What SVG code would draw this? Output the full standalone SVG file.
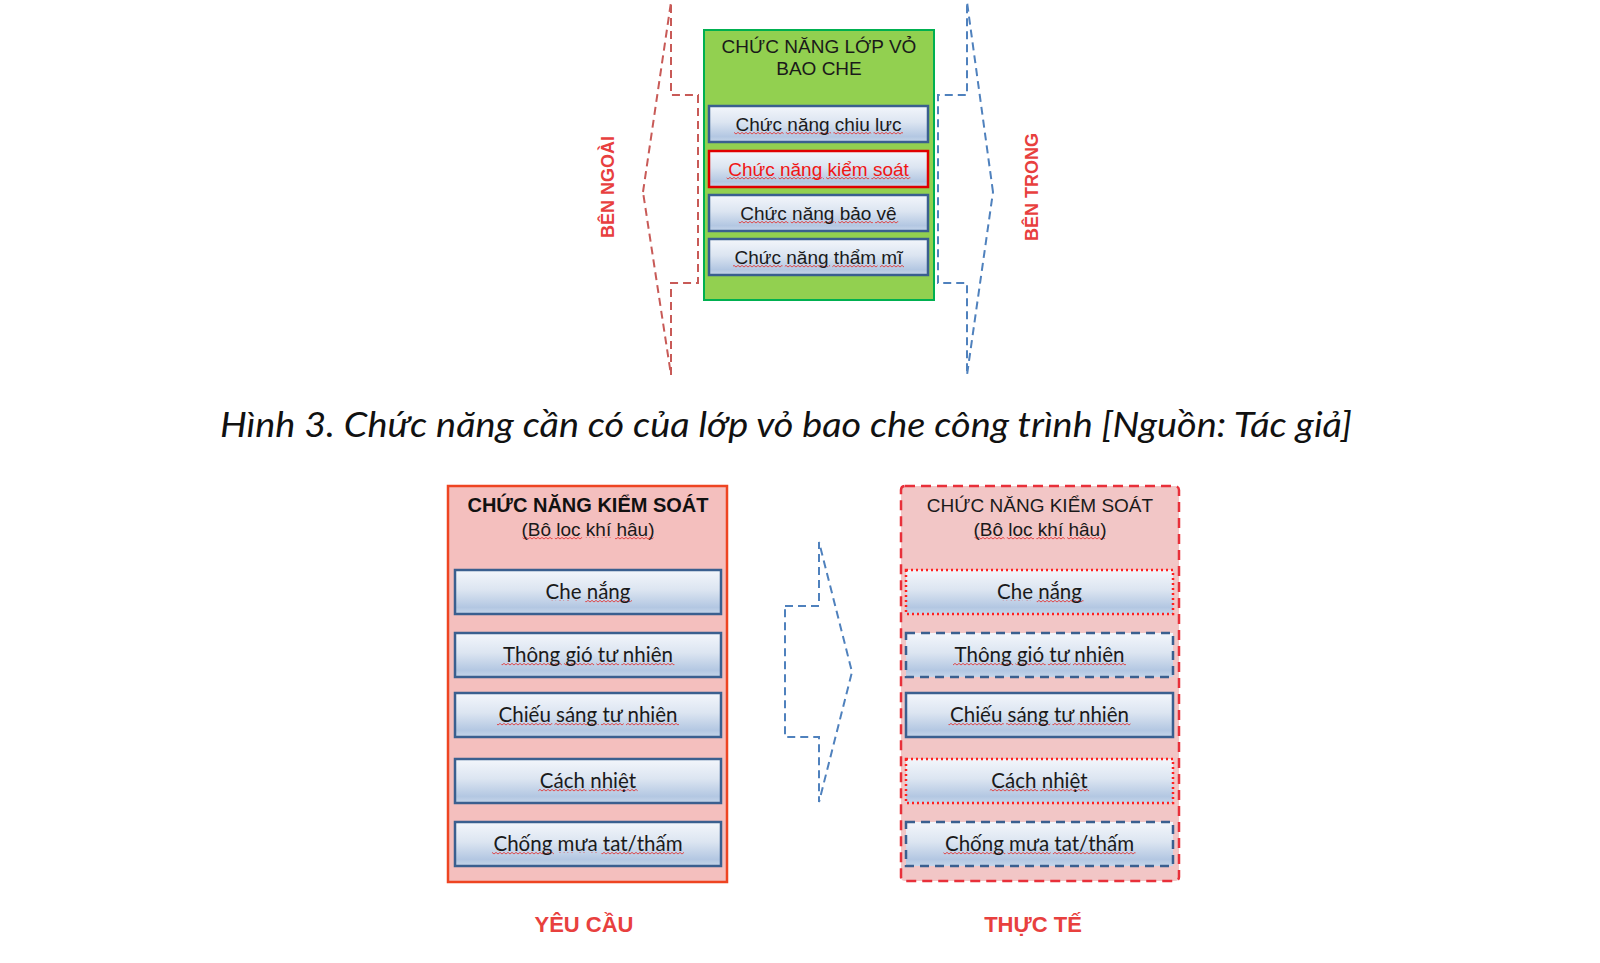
<svg xmlns="http://www.w3.org/2000/svg" width="1600" height="963" viewBox="0 0 1600 963">
<defs>
<linearGradient id="boxg" x1="0" y1="0" x2="0" y2="1">
<stop offset="0" stop-color="#F3F6FB"/>
<stop offset="0.45" stop-color="#DCE5F1"/>
<stop offset="0.85" stop-color="#B3C7E2"/>
<stop offset="1" stop-color="#C6D6EA"/>
</linearGradient>
<path id="zz" fill="none" stroke="#E03A3A" stroke-width="0.9" d="M0,0 l2,-1.6 2,1.6 2,-1.6 2,1.6 2,-1.6 2,1.6 2,-1.6 2,1.6 2,-1.6 2,1.6 2,-1.6 2,1.6 2,-1.6 2,1.6 2,-1.6 2,1.6 2,-1.6 2,1.6 2,-1.6 2,1.6 2,-1.6 2,1.6 2,-1.6 2,1.6 2,-1.6 2,1.6 2,-1.6 2,1.6 2,-1.6 2,1.6 2,-1.6 2,1.6 2,-1.6 2,1.6 2,-1.6 2,1.6 2,-1.6 2,1.6 2,-1.6 2,1.6 2,-1.6 2,1.6 2,-1.6 2,1.6 2,-1.6 2,1.6 2,-1.6 2,1.6 2,-1.6 2,1.6 2,-1.6 2,1.6 2,-1.6 2,1.6 2,-1.6 2,1.6 2,-1.6 2,1.6 2,-1.6 2,1.6 2,-1.6 2,1.6 2,-1.6 2,1.6 2,-1.6 2,1.6 2,-1.6 2,1.6 2,-1.6 2,1.6 2,-1.6 2,1.6 2,-1.6 2,1.6 2,-1.6 2,1.6 2,-1.6 2,1.6 2,-1.6 2,1.6 2,-1.6 2,1.6 2,-1.6 2,1.6 2,-1.6 2,1.6 2,-1.6 2,1.6 2,-1.6 2,1.6 2,-1.6 2,1.6 2,-1.6 2,1.6 2,-1.6 2,1.6 2,-1.6 2,1.6 2,-1.6 2,1.6 2,-1.6 2,1.6 2,-1.6 2,1.6 2,-1.6 2,1.6 2,-1.6 2,1.6 2,-1.6 2,1.6 2,-1.6 2,1.6 2,-1.6 2,1.6 2,-1.6 2,1.6 2,-1.6 2,1.6 2,-1.6 2,1.6 2,-1.6 2,1.6 2,-1.6 2,1.6 2,-1.6 2,1.6 2,-1.6 2,1.6 2,-1.6 2,1.6 2,-1.6 2,1.6 2,-1.6 2,1.6 2,-1.6 2,1.6 2,-1.6 2,1.6 2,-1.6 2,1.6 2,-1.6 2,1.6 2,-1.6 2,1.6 2,-1.6 2,1.6 2,-1.6 2,1.6 2,-1.6 2,1.6 2,-1.6 2,1.6 2,-1.6 2,1.6 2,-1.6 2,1.6 2,-1.6 2,1.6 2,-1.6 2,1.6 2,-1.6 2,1.6 2,-1.6 2,1.6"/>

<mask id="m1" maskUnits="userSpaceOnUse" x="0" y="0" width="1600" height="963"><text class="arial t19 mk" x="818.5" y="131"><tspan class="w">Chức</tspan> <tspan class="w">năng</tspan> <tspan class="w">chiu</tspan> <tspan class="w">lưc</tspan></text></mask>
<mask id="m2" maskUnits="userSpaceOnUse" x="0" y="0" width="1600" height="963"><text class="arial t19 mk" x="818.5" y="176"><tspan class="w">Chức</tspan> <tspan class="w">năng</tspan> <tspan class="w">kiểm</tspan> <tspan class="w">soát</tspan></text></mask>
<mask id="m3" maskUnits="userSpaceOnUse" x="0" y="0" width="1600" height="963"><text class="arial t19 mk" x="818.5" y="220"><tspan class="w">Chức</tspan> <tspan class="w">năng</tspan> <tspan class="w">bảo</tspan> <tspan class="w">vê</tspan></text></mask>
<mask id="m4" maskUnits="userSpaceOnUse" x="0" y="0" width="1600" height="963"><text class="arial t19 mk" x="818.5" y="264"><tspan class="w">Chức</tspan> <tspan class="w">năng</tspan> <tspan class="w">thẩm</tspan> <tspan class="w">mĩ</tspan></text></mask>
<mask id="m5" maskUnits="userSpaceOnUse" x="0" y="0" width="1600" height="963"><text class="arial t19 mk" x="588" y="536" font-size="20.5">(<tspan class="w">Bô</tspan> <tspan class="w">loc</tspan> khí <tspan class="w">hâu</tspan>)</text></mask>
<mask id="m6" maskUnits="userSpaceOnUse" x="0" y="0" width="1600" height="963"><text class="cal t20 mk" x="588" y="599">Che <tspan class="w">nắng</tspan></text></mask>
<mask id="m7" maskUnits="userSpaceOnUse" x="0" y="0" width="1600" height="963"><text class="cal t20 mk" x="588" y="662"><tspan class="w">Thông</tspan> <tspan class="w">gió</tspan> <tspan class="w">tư</tspan> <tspan class="w">nhiên</tspan></text></mask>
<mask id="m8" maskUnits="userSpaceOnUse" x="0" y="0" width="1600" height="963"><text class="cal t20 mk" x="588" y="722"><tspan class="w">Chiếu</tspan> <tspan class="w">sáng</tspan> <tspan class="w">tư</tspan> <tspan class="w">nhiên</tspan></text></mask>
<mask id="m9" maskUnits="userSpaceOnUse" x="0" y="0" width="1600" height="963"><text class="cal t20 mk" x="588" y="788"><tspan class="w">Cách</tspan> <tspan class="w">nhiệt</tspan></text></mask>
<mask id="m10" maskUnits="userSpaceOnUse" x="0" y="0" width="1600" height="963"><text class="cal t20 mk" x="588" y="851"><tspan class="w">Chống</tspan> mưa <tspan class="w">tat/thấm</tspan></text></mask>
<mask id="m11" maskUnits="userSpaceOnUse" x="0" y="0" width="1600" height="963"><text class="arial t19 mk" x="1040" y="536" font-size="20.5">(<tspan class="w">Bô</tspan> <tspan class="w">loc</tspan> <tspan class="w">khí</tspan> <tspan class="w">hâu</tspan>)</text></mask>
<mask id="m12" maskUnits="userSpaceOnUse" x="0" y="0" width="1600" height="963"><text class="cal t20 mk" x="1039.5" y="599">Che <tspan class="w">nắng</tspan></text></mask>
<mask id="m13" maskUnits="userSpaceOnUse" x="0" y="0" width="1600" height="963"><text class="cal t20 mk" x="1039.5" y="662"><tspan class="w">Thông</tspan> <tspan class="w">gió</tspan> <tspan class="w">tư</tspan> <tspan class="w">nhiên</tspan></text></mask>
<mask id="m14" maskUnits="userSpaceOnUse" x="0" y="0" width="1600" height="963"><text class="cal t20 mk" x="1039.5" y="722"><tspan class="w">Chiếu</tspan> <tspan class="w">sáng</tspan> <tspan class="w">tư</tspan> <tspan class="w">nhiên</tspan></text></mask>
<mask id="m15" maskUnits="userSpaceOnUse" x="0" y="0" width="1600" height="963"><text class="cal t20 mk" x="1039.5" y="788"><tspan class="w">Cách</tspan> <tspan class="w">nhiệt</tspan></text></mask>
<mask id="m16" maskUnits="userSpaceOnUse" x="0" y="0" width="1600" height="963"><text class="cal t20 mk" x="1039.5" y="851"><tspan class="w">Chống</tspan> <tspan class="w">mưa</tspan> <tspan class="w">tat/thấm</tspan></text></mask>
</defs>
<style>
.arial{font-family:"Liberation Sans",Arial,sans-serif}
.cal{font-family:Lato,"Open Sans",sans-serif}
.sub{fill:url(#boxg);stroke:#3A5F8F;stroke-width:2.5}
.t19{font-size:19px;fill:#1a1a1a;text-anchor:middle}
.t20{font-size:20.5px;fill:#1a1a1a;text-anchor:middle}
.red{fill:#E8403E;font-weight:bold;text-anchor:middle}
.mk{fill:#ffffff;stroke:#ffffff;stroke-width:3}
.w{text-decoration:underline}
.dashR{fill:none;stroke:#C85A57;stroke-width:2;stroke-dasharray:8 5}
.dashB{fill:none;stroke:#4F81BD;stroke-width:2;stroke-dasharray:8 5}
.dotR{fill:url(#boxg);stroke:#FF2020;stroke-width:2.5;stroke-dasharray:2 3}
.dashN{fill:url(#boxg);stroke:#3A5F8F;stroke-width:2.5;stroke-dasharray:9 6}
</style>
<rect width="1600" height="963" fill="#ffffff"/>

<g id="connectors">
<path class="dashR" d="M643,192 L671,2 L671,95 L698,95 L698,283 L671,283 L671,375 Z"/>
<path class="dashB" d="M993,192 L967,2 L967,95 L938,95 L938,283 L967,283 L967,375 Z"/>
<path class="dashB" d="M785,606 L819,606 L819,542 L852,672 L819,802 L819,737 L785,737 Z"/>
</g>

<g id="label-ben-ngoai">
<text class="arial red" font-size="18" transform="translate(614,187) rotate(-90)">BÊN NGOÀI</text>
</g>
<g id="label-ben-trong">
<text class="arial red" font-size="18" transform="translate(1038,187) rotate(-90)">BÊN TRONG</text>
</g>

<g id="node-lop-vo">
<rect x="704" y="30" width="230" height="270" fill="#92D050" stroke="#00B050" stroke-width="2"/>
<text class="arial t19" x="819" y="53">CHỨC NĂNG LỚP VỎ</text>
<text class="arial t19" x="819" y="75">BAO CHE</text>
</g>
<g id="node-chiu-luc">
<rect class="sub" x="709" y="106" width="219" height="36"/>
<g mask="url(#m1)"><use href="#zz" x="712" y="134"/></g>
<text class="arial t19" x="818.5" y="131">Chức năng chiu lưc</text>
</g>
<g id="node-kiem-soat">
<rect x="709" y="151" width="219" height="36" fill="url(#boxg)" stroke="#E00000" stroke-width="2.5"/>
<g mask="url(#m2)"><use href="#zz" x="712" y="179"/></g>
<text class="arial t19" x="818.5" y="176" style="fill:#F01515">Chức năng kiểm soát</text>
</g>
<g id="node-bao-ve">
<rect class="sub" x="709" y="195" width="219" height="36"/>
<g mask="url(#m3)"><use href="#zz" x="712" y="223"/></g>
<text class="arial t19" x="818.5" y="220">Chức năng bảo vê</text>
</g>
<g id="node-tham-mi">
<rect class="sub" x="709" y="239" width="219" height="36"/>
<g mask="url(#m4)"><use href="#zz" x="712" y="267"/></g>
<text class="arial t19" x="818.5" y="264">Chức năng thẩm mĩ</text>
</g>

<g id="caption">
<text class="cal" x="786" y="437" font-size="34" font-style="italic" fill="#111" text-anchor="middle" textLength="1132" lengthAdjust="spacingAndGlyphs">Hình 3. Chức năng cần có của lớp vỏ bao che công trình [Nguồn: Tác giả]</text>
</g>

<g id="node-yeu-cau">
<rect x="448" y="486" width="279" height="396" fill="#F4BFBE" stroke="#EE4422" stroke-width="2.5"/>
<text class="arial" x="588" y="512" font-size="20" font-weight="bold" fill="#111" text-anchor="middle">CHỨC NĂNG KIỂM SOÁT</text>
<g mask="url(#m5)"><use href="#zz" x="452" y="539"/></g>
<text class="arial t19" x="588" y="536" font-size="20.5">(Bô loc khí hâu)</text>
</g>
<g id="yc-che-nang">
<rect class="sub" x="455" y="570" width="266" height="44"/>
<g mask="url(#m6)"><use href="#zz" x="458" y="602"/></g>
<text class="cal t20" x="588" y="599">Che nắng</text>
</g>
<g id="yc-thong-gio">
<rect class="sub" x="455" y="633" width="266" height="44"/>
<g mask="url(#m7)"><use href="#zz" x="458" y="665"/></g>
<text class="cal t20" x="588" y="662">Thông gió tư nhiên</text>
</g>
<g id="yc-chieu-sang">
<rect class="sub" x="455" y="693" width="266" height="44"/>
<g mask="url(#m8)"><use href="#zz" x="458" y="725"/></g>
<text class="cal t20" x="588" y="722">Chiếu sáng tư nhiên</text>
</g>
<g id="yc-cach-nhiet">
<rect class="sub" x="455" y="759" width="266" height="44"/>
<g mask="url(#m9)"><use href="#zz" x="458" y="791"/></g>
<text class="cal t20" x="588" y="788">Cách nhiệt</text>
</g>
<g id="yc-chong-mua">
<rect class="sub" x="455" y="822" width="266" height="44"/>
<g mask="url(#m10)"><use href="#zz" x="458" y="854"/></g>
<text class="cal t20" x="588" y="851">Chống mưa tat/thấm</text>
</g>

<g id="node-thuc-te">
<rect x="901" y="486" width="278" height="395" rx="4" fill="#F2C6C6" stroke="#E8303A" stroke-width="2.5" stroke-dasharray="10 6"/>
<text class="arial t19" x="1040" y="512" font-size="20">CHỨC NĂNG KIỂM SOÁT</text>
<g mask="url(#m11)"><use href="#zz" x="905" y="539"/></g>
<text class="arial t19" x="1040" y="536" font-size="20.5">(Bô loc khí hâu)</text>
</g>
<g id="tt-che-nang">
<rect class="dotR" x="906" y="570" width="267" height="44"/>
<g mask="url(#m12)"><use href="#zz" x="909" y="602"/></g>
<text class="cal t20" x="1039.5" y="599">Che nắng</text>
</g>
<g id="tt-thong-gio">
<rect class="dashN" x="906" y="633" width="267" height="44"/>
<g mask="url(#m13)"><use href="#zz" x="909" y="665"/></g>
<text class="cal t20" x="1039.5" y="662">Thông gió tư nhiên</text>
</g>
<g id="tt-chieu-sang">
<rect class="sub" x="906" y="693" width="267" height="44"/>
<g mask="url(#m14)"><use href="#zz" x="909" y="725"/></g>
<text class="cal t20" x="1039.5" y="722">Chiếu sáng tư nhiên</text>
</g>
<g id="tt-cach-nhiet">
<rect class="dotR" x="906" y="759" width="267" height="44"/>
<g mask="url(#m15)"><use href="#zz" x="909" y="791"/></g>
<text class="cal t20" x="1039.5" y="788">Cách nhiệt</text>
</g>
<g id="tt-chong-mua">
<rect class="dashN" x="906" y="822" width="267" height="44"/>
<g mask="url(#m16)"><use href="#zz" x="909" y="854"/></g>
<text class="cal t20" x="1039.5" y="851">Chống mưa tat/thấm</text>
</g>

<g id="label-yeu-cau">
<text class="arial red" x="584" y="932" font-size="22">YÊU CẦU</text>
</g>
<g id="label-thuc-te">
<text class="arial red" x="1033" y="932" font-size="22">THỰC TẾ</text>
</g>
</svg>
